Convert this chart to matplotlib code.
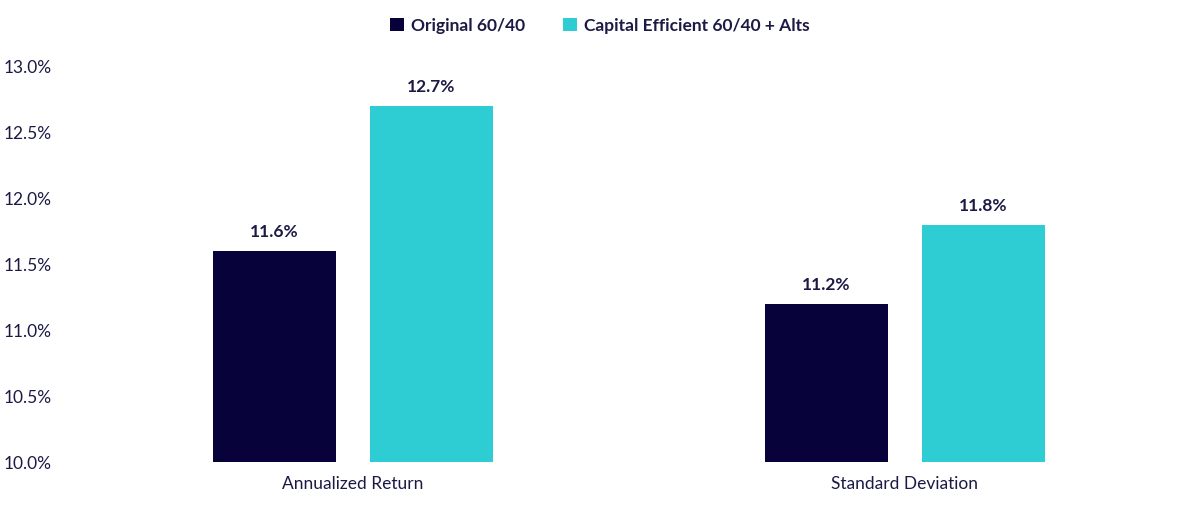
import numpy as np
import matplotlib.pyplot as plt

categories = ["Annualized Return", "Standard Deviation"]
series_names = ["Original 60/40", "Capital Efficient 60/40 + Alts"]
original = [11.6, 11.2]
efficient = [12.7, 11.8]
yticks = [10.0, 10.5, 11.0, 11.5, 12.0, 12.5, 13.0]

navy = "#07033a"
teal = "#2ecdd3"
text_col = "#1c1a45"

plt.rcParams["font.family"] = ["Lato", "DejaVu Sans"]

fig = plt.figure(figsize=(12, 5.13), dpi=100)
ax = fig.add_axes([0.064, 0.099, 0.92, 0.772])

x = np.arange(len(categories))
w = 0.223
off = 0.142
b1 = ax.bar(x - off, [v - 10 for v in original], w, bottom=10, color=navy, label=series_names[0])
b2 = ax.bar(x + off, [v - 10 for v in efficient], w, bottom=10, color=teal, label=series_names[1])

for bars, vals in [(b1, original), (b2, efficient)]:
    for r, v in zip(bars, vals):
        ax.text(r.get_x() + r.get_width() / 2, v + 0.08, f"{v:.1f}%", ha="center", va="bottom",
                fontsize=12.5, fontweight="bold", color=text_col)

ax.set_xlim(-0.5, 1.5)
ax.set_ylim(10, 13)
ax.set_yticks(yticks)
ax.set_yticklabels([f"{t:.1f}%" for t in yticks], fontsize=12.5, color=text_col)
ax.set_xticks(x)
ax.set_xticklabels(categories, fontsize=12.5, color=text_col)
ax.tick_params(length=0, pad=10)
ax.tick_params(axis="y", pad=18)
for s in ax.spines.values():
    s.set_visible(False)

leg = fig.legend(loc="center", bbox_to_anchor=(0.5, 0.95), ncol=2, frameon=False,
                 handlelength=0.8, handleheight=0.8, handletextpad=0.4, columnspacing=2.2,
                 prop={"weight": "bold", "size": 12.5})
for t in leg.get_texts():
    t.set_color(text_col)

fig.savefig("out.png", dpi=100)
